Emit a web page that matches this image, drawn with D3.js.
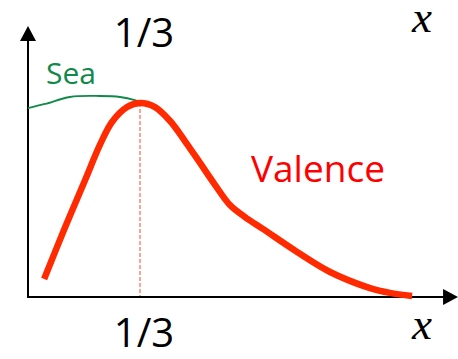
<!DOCTYPE html>
<html>
<head>
<meta charset="utf-8">
<script src="https://cdn.jsdelivr.net/npm/d3@7"></script>
<style>
  body { margin: 0; background: #fff; }
  svg { display: block; }
</style>
</head>
<body>
<svg id="chart"></svg>
<script>
// x positions (fraction of unit)
const valenceX = [0.048, 0.107, 0.170, 0.214, 0.250, 0.295, 0.333, 0.378, 0.423, 0.467, 0.512, 0.557, 0.601, 0.646, 0.699, 0.801, 0.899, 1.018, 1.077, 1.143];
const valenceY = [0.093, 0.345, 0.603, 0.784, 0.902, 0.979, 1.000, 0.979, 0.907, 0.804, 0.691, 0.577, 0.474, 0.412, 0.351, 0.232, 0.129, 0.046, 0.021, 0.005];
const seaX = [0.000, 0.051, 0.125, 0.214, 0.274, 0.318, 0.342];
const seaY = [0.974, 0.995, 1.031, 1.036, 1.031, 1.015, 1.000];
const peakX = 1 / 3;
const tickLabel = '1/3';
const axisLabel = 'x';

const width = 458, height = 359;
const svg = d3.select('#chart').attr('width', width).attr('height', height);

// 0 -> 28px, 1/3 -> 140px ; 0 -> 297px, 1 (peak) -> 103px
const xScale = d3.scaleLinear().domain([0, 1]).range([28, 364]);
const yScale = d3.scaleLinear().domain([0, 1]).range([297, 103]);

const x0 = xScale(0), y0 = yScale(0);
const xEnd = xScale(1.28), yEnd = yScale(1.397);

// axes (plain arrows, no ticks)
svg.append('line')
    .attr('x1', x0).attr('y1', y0 + 1)
    .attr('x2', x0).attr('y2', yEnd + 12)
    .attr('stroke', '#000').attr('stroke-width', 2);
svg.append('path')
    .attr('d', `M${x0},${yEnd} L${x0 - 8},${yEnd + 15} L${x0 + 8},${yEnd + 15} Z`)
    .attr('fill', '#000');

svg.append('line')
    .attr('x1', x0 - 1).attr('y1', y0)
    .attr('x2', xEnd - 12).attr('y2', y0)
    .attr('stroke', '#000').attr('stroke-width', 2);
svg.append('path')
    .attr('d', `M${xEnd},${y0} L${xEnd - 15},${y0 - 8} L${xEnd - 15},${y0 + 8} Z`)
    .attr('fill', '#000');

// dashed drop line at the peak
svg.append('line')
    .attr('x1', xScale(peakX)).attr('y1', yScale(1))
    .attr('x2', xScale(peakX)).attr('y2', y0 - 1)
    .attr('stroke', '#f04a2a').attr('stroke-width', 1)
    .attr('stroke-dasharray', '4,2');

const line = d3.line()
    .x(d => xScale(d[0]))
    .y(d => yScale(d[1]))
    .curve(d3.curveCatmullRom.alpha(0.5));

svg.append('path')
    .datum(seaX.map((v, i) => [v, seaY[i]]))
    .attr('d', line)
    .attr('fill', 'none')
    .attr('stroke', '#11894a')
    .attr('stroke-width', 1.8);

svg.append('path')
    .datum(valenceX.map((v, i) => [v, valenceY[i]]))
    .attr('d', line)
    .attr('fill', 'none')
    .attr('stroke', '#ff2a00')
    .attr('stroke-width', 6.5)
    .attr('stroke-linecap', 'butt');

// labels
const sans = "'Open Sans', 'Noto Sans', sans-serif";
svg.append('text')
    .attr('x', xScale(peakX) + 4).attr('y', 47)
    .attr('text-anchor', 'middle')
    .style('font-family', sans).style('font-size', '40px')
    .attr('fill', '#000')
    .text(tickLabel);
svg.append('text')
    .attr('x', xScale(peakX) + 4).attr('y', 347)
    .attr('text-anchor', 'middle')
    .style('font-family', sans).style('font-size', '40px')
    .attr('fill', '#000')
    .text(tickLabel);

svg.append('text')
    .attr('x', 46).attr('y', 84)
    .style('font-family', sans).style('font-size', '30px')
    .attr('fill', '#11894a')
    .text('Sea');

svg.append('text')
    .attr('x', 251).attr('y', 182)
    .style('font-family', sans).style('font-size', '37px')
    .attr('fill', '#ff0000')
    .text('Valence');

const serif = "'Liberation Serif', 'DejaVu Serif', serif";
svg.append('text')
    .attr('x', 412).attr('y', 32)
    .style('font-family', serif).style('font-size', '45px').style('font-style', 'italic')
    .attr('fill', '#000')
    .text(axisLabel);
svg.append('text')
    .attr('x', 412).attr('y', 339)
    .style('font-family', serif).style('font-size', '45px').style('font-style', 'italic')
    .attr('fill', '#000')
    .text(axisLabel);
</script>
</body>
</html>
